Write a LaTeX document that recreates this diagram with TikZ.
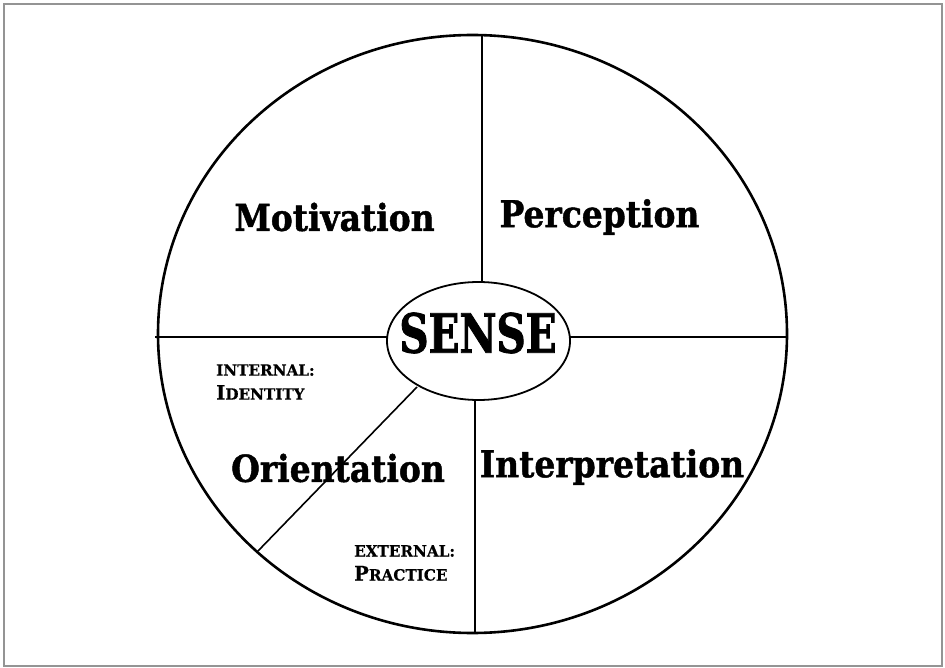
\documentclass[tikz,border=0pt]{standalone}
\usepackage{fontspec}
\usetikzlibrary{shapes.geometric}
\newfontfamily\lblfont{DejaVu Serif}[FakeStretch=0.89,BoldFeatures={FakeBold=1.2}]
\newfontfamily\sensefont{DejaVu Serif}[FakeStretch=0.75,BoldFeatures={FakeBold=1.5}]
\newfontfamily\scfont{DejaVu Serif}[FakeStretch=0.98,BoldFeatures={FakeBold=0.6}]
\newcommand{\bigc}[1]{{\fontsize{20}{20}\selectfont #1}}
\begin{document}
\begin{tikzpicture}[x=1pt,y=-1pt,
  frame/.style={draw=black!42,line width=2pt},
  ring/.style={draw=black,line width=2.6pt},
  divider/.style={draw=black,line width=1.6pt},
  hub/.style={draw=black,line width=1.8pt,ellipse},
  big/.style={font=\lblfont\bfseries\fontsize{37}{37}\selectfont,inner sep=0pt},
  small/.style={font=\scfont\bfseries\fontsize{15.5}{24}\selectfont,inner sep=0pt,align=left,anchor=west}]
\useasboundingbox (0,0) rectangle (945,668);
\draw[frame] (4,4) rectangle (942,666);
% outer ring
\draw[ring] (472.5,334) ellipse [x radius=314.5,y radius=299];
% named points on ring
\coordinate (rtop) at (482,35.3);
\coordinate (rbot) at (475,633);
\coordinate (rleft) at (155,337);
\coordinate (rright) at (786.5,337);
\coordinate (rdiag) at (258,551);
% hub ellipse
\node[hub,minimum width=183pt,minimum height=118pt,inner sep=0pt,fill=white] (hub) at (478.5,341) {};
\coordinate (htop) at (482,282.2);
\coordinate (hbot) at (475,399.8);
\coordinate (hleft) at (387.6,337);
\coordinate (hright) at (569.4,337);
\coordinate (hdiag) at (417,387);
\draw[divider] (rtop) -- (htop);
\draw[divider] (hbot) -- (rbot);
\draw[divider] (rleft) -- (hleft);
\draw[divider] (hright) -- (rright);
\draw[divider] (hdiag) -- (rdiag);
% labels
\node[font=\sensefont\bfseries\fontsize{54}{54}\selectfont,inner sep=0pt] (sense) at (478,333) {SENSE};
\node[big] (motivation) at (334.5,217) {Motivation};
\node[big] (perception) at (599.5,217) {Perception};
\node[big] (orientation) at (338,468) {Orientation};
\node[big] (interpretation) at (612,467) {Interpretation};
\node[small] (internal) at (216,382) {INTERNAL:\\\bigc{I}DENTITY};
\node[small] (external) at (354,563) {EXTERNAL:\\\bigc{P}RACTICE};
\end{tikzpicture}
\end{document}
